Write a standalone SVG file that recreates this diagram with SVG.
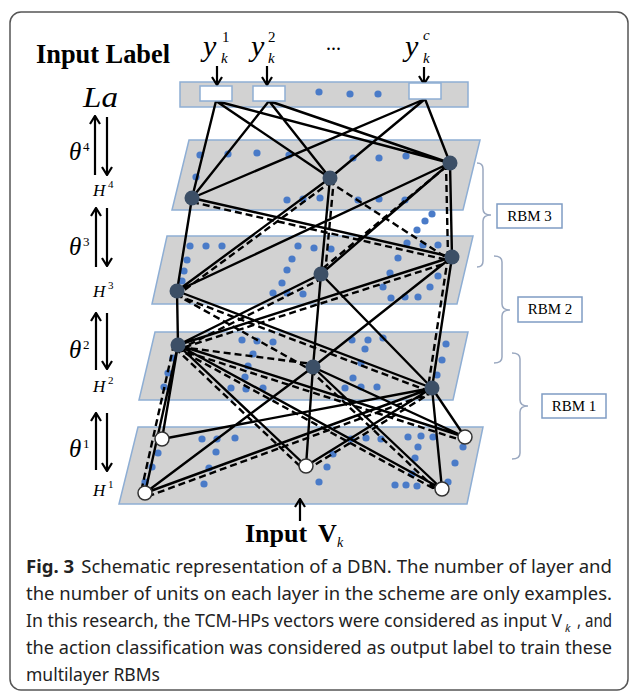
<svg xmlns="http://www.w3.org/2000/svg" width="630" height="695" viewBox="0 0 630 695">
<style>
.layer{fill:#d2d2d2;stroke:#8eaed4;stroke-width:1.5}
.dot{fill:#4a7bc8}
.hn{fill:#3c4f66}
.vn{fill:#fff;stroke:#333;stroke-width:1.5}
.lb{fill:#fff;stroke:#8eaed4;stroke-width:1.5}
.s{stroke:#000;stroke-width:2.4;fill:none}
.d{stroke:#000;stroke-width:2.4;fill:none;stroke-dasharray:7 4}
.ar{stroke:#000;stroke-width:2.2;fill:none}
.serif{font-family:"Liberation Serif","Times New Roman",serif;fill:#000}
.it{font-family:"Liberation Serif","Times New Roman",serif;font-style:italic;fill:#000}
.brace{fill:none;stroke:#9aa8c0;stroke-width:1.5}
.rbm{fill:#fff;stroke:#7f9cc4;stroke-width:1.5}
.cap{font-family:"Noto Sans","Open Sans","Liberation Sans",sans-serif;font-size:18.5px;fill:#222}
</style>
<defs>
<marker id="ah" viewBox="0 0 12 12" refX="11" refY="6" markerWidth="12" markerHeight="12" markerUnits="userSpaceOnUse" orient="auto">
<path d="M3,1 L11,6 L3,11" fill="none" stroke="#000" stroke-width="2.2"/>
</marker>
</defs>

<rect x="10" y="12" width="618" height="678" rx="11" fill="#fff" stroke="#555" stroke-width="1.5"/>

<!-- layers -->
<g id="label-layer">
<rect class="layer" x="180" y="82" width="288" height="25"/>
<circle class="dot" cx="319" cy="92" r="3.6"/><circle class="dot" cx="350" cy="94" r="3.6"/><circle class="dot" cx="378" cy="94" r="3.6"/>
</g>
<g id="layer-h4">
<polygon class="layer" points="189,140 480,140 463,210 172,210"/>
<g class="dot">
<circle cx="200" cy="155" r="3.6"/><circle cx="228" cy="154" r="3.6"/><circle cx="257" cy="153" r="3.6"/><circle cx="289" cy="155" r="3.6"/><circle cx="353" cy="158" r="3.6"/><circle cx="379" cy="158" r="3.6"/><circle cx="406" cy="156" r="3.6"/><circle cx="196" cy="177" r="3.6"/><circle cx="287" cy="200" r="3.6"/><circle cx="303" cy="199" r="3.6"/><circle cx="320" cy="198" r="3.6"/><circle cx="358" cy="200" r="3.6"/><circle cx="379" cy="199" r="3.6"/><circle cx="405" cy="200" r="3.6"/>
<circle cx="432" cy="214" r="3.6"/><circle cx="425" cy="221" r="3.6"/><circle cx="417" cy="230" r="3.6"/>
</g>
</g>
<g id="layer-h3">
<polygon class="layer" points="167,236 473,236 457,304 152,304"/>
<g class="dot">
<circle cx="190" cy="246" r="3.6"/><circle cx="206" cy="246" r="3.6"/><circle cx="222" cy="246" r="3.6"/><circle cx="187" cy="260" r="3.6"/><circle cx="184" cy="271" r="3.6"/><circle cx="182" cy="281" r="3.6"/>
<circle cx="298" cy="246" r="3.6"/><circle cx="314" cy="248" r="3.6"/><circle cx="331" cy="249" r="3.6"/><circle cx="292" cy="259" r="3.6"/><circle cx="287" cy="270" r="3.6"/><circle cx="282" cy="283" r="3.6"/><circle cx="273" cy="293" r="3.6"/><circle cx="287" cy="293" r="3.6"/><circle cx="303" cy="294" r="3.6"/>
<circle cx="398" cy="258" r="3.6"/><circle cx="390" cy="273" r="3.6"/><circle cx="383" cy="287" r="3.6"/><circle cx="391" cy="298" r="3.6"/><circle cx="405" cy="297" r="3.6"/><circle cx="418" cy="297" r="3.6"/><circle cx="407" cy="243" r="3.6"/><circle cx="423" cy="245" r="3.6"/><circle cx="438" cy="245" r="3.6"/><circle cx="438" cy="276" r="3.6"/><circle cx="430" cy="287" r="3.6"/>
</g>
</g>
<g id="layer-h2">
<polygon class="layer" points="155,332 468,332 453,400 139,400"/>
<g class="dot">
<circle cx="173" cy="358" r="3.6"/><circle cx="168" cy="373" r="3.6"/><circle cx="164" cy="387" r="3.6"/>
<circle cx="242" cy="340" r="3.6"/><circle cx="257" cy="341" r="3.6"/><circle cx="273" cy="342" r="3.6"/><circle cx="253" cy="354" r="3.6"/><circle cx="248" cy="366" r="3.6"/><circle cx="245" cy="377" r="3.6"/><circle cx="231" cy="388" r="3.6"/><circle cx="246" cy="389" r="3.6"/><circle cx="263" cy="388" r="3.6"/>
<circle cx="352" cy="340" r="3.6"/><circle cx="368" cy="340" r="3.6"/><circle cx="383" cy="338" r="3.6"/><circle cx="365" cy="349" r="3.6"/><circle cx="361" cy="363" r="3.6"/><circle cx="353" cy="378" r="3.6"/><circle cx="361" cy="387" r="3.6"/><circle cx="377" cy="387" r="3.6"/><circle cx="345" cy="388" r="3.6"/>
<circle cx="446" cy="344" r="3.6"/><circle cx="442" cy="360" r="3.6"/><circle cx="437" cy="375" r="3.6"/>
</g>
</g>
<g id="layer-h1">
<polygon class="layer" points="138,427 483,427 467,504 119,504"/>
<g class="dot">
<circle cx="158" cy="453" r="3.6"/><circle cx="152" cy="467" r="3.6"/><circle cx="145" cy="482" r="3.6"/>
<circle cx="202" cy="439" r="3.6"/><circle cx="217" cy="439" r="3.6"/><circle cx="235" cy="438" r="3.6"/><circle cx="216" cy="452" r="3.6"/><circle cx="209" cy="468" r="3.6"/><circle cx="204" cy="484" r="3.6"/>
<circle cx="333" cy="454" r="3.6"/><circle cx="327" cy="467" r="3.6"/><circle cx="319" cy="482" r="3.6"/>
<circle cx="351" cy="439" r="3.6"/><circle cx="366" cy="438" r="3.6"/><circle cx="381" cy="439" r="3.6"/><circle cx="408" cy="437" r="3.6"/><circle cx="421" cy="436" r="3.6"/><circle cx="433" cy="437" r="3.6"/><circle cx="418" cy="447" r="3.6"/><circle cx="415" cy="458" r="3.6"/><circle cx="412" cy="474" r="3.6"/><circle cx="395" cy="485" r="3.6"/><circle cx="406" cy="485" r="3.6"/><circle cx="417" cy="486" r="3.6"/>
<circle cx="463" cy="447" r="3.6"/><circle cx="455" cy="463" r="3.6"/><circle cx="448" cy="482" r="3.6"/>
</g>
</g>

<!-- connectors -->
<g id="connectors">
<path class="s" d="M216,101 L192,198 M216,101 L330,178 M216,101 L450,163 M269,101 L192,198 M269,101 L330,178 M269,101 L450,163 M425,99 L192,198 M425,99 L330,178 M425,99 L450,163"/>
<path class="s" d="M192,198 L177,291 M192,198 L452,257 M330,178 L177,291 M330,178 L321,274 M450,163 L177,291 M450,163 L321,274 M450,163 L452,257 M177,291 L450,163"/>
<path class="d" d="M192,202 L452,261 M334,178 L325,274 M328,181 L450,260 M446,163 L448,257 M332,181 L179,294 M447,166 L321,270"/>
<path class="s" d="M177,291 L178,345 M177,291 L432,388 M321,274 L178,345 M321,274 L313,367 M321,274 L432,388 M452,257 L178,345 M452,257 L313,367 M452,257 L432,388"/>
<path class="d" d="M176,295 L431,392 M175,294 L311,370 M323,278 L180,349 M453,261 L179,349 M448,257 L428,388"/>
<path class="s" d="M162,439 L178,345 M162,439 L432,388 M145,493 L178,345 M145,493 L313,367 M145,493 L432,388 M306,466 L178,345 M306,466 L313,367 M306,466 L432,388 M442,489 L178,345 M442,489 L313,367 M442,489 L432,388 M465,437 L313,367 M465,437 L432,388 M465,437 L178,345"/>
<path class="d" d="M174,344 L141,492 M175,348 L303,469 M176,348 L440,492 M177,349 L464,441 M310,370 L439,492 M433,392 L146,497 M434,391 L308,469 M180,347 L313,364"/>
<path class="ar" d="M217,66 L217,85" marker-end="url(#ah)"/>
<path class="ar" d="M267,66 L267,85" marker-end="url(#ah)"/>
<path class="ar" d="M424,67 L424,84" marker-end="url(#ah)"/>
<path class="ar" d="M300,521 L300,499" marker-end="url(#ah)"/>
</g>

<!-- label units -->
<g id="unit-y1"><rect class="lb" x="200" y="86" width="32" height="15"/></g>
<g id="unit-y2"><rect class="lb" x="253" y="86" width="32" height="15"/></g>
<g id="unit-yc"><rect class="lb" x="409" y="83" width="32" height="16"/></g>

<!-- hidden units -->
<g id="h4-1"><circle class="hn" cx="192" cy="198" r="7.5"/></g>
<g id="h4-2"><circle class="hn" cx="330" cy="178" r="7.5"/></g>
<g id="h4-3"><circle class="hn" cx="450" cy="163" r="7.5"/></g>
<g id="h3-1"><circle class="hn" cx="177" cy="291" r="7.5"/></g>
<g id="h3-2"><circle class="hn" cx="321" cy="274" r="7.5"/></g>
<g id="h3-3"><circle class="hn" cx="452" cy="257" r="7.5"/></g>
<g id="h2-1"><circle class="hn" cx="178" cy="345" r="7.5"/></g>
<g id="h2-2"><circle class="hn" cx="313" cy="367" r="7.5"/></g>
<g id="h2-3"><circle class="hn" cx="432" cy="388" r="7.5"/></g>
<!-- visible units -->
<g id="v-1"><circle class="vn" cx="162" cy="439" r="7"/></g>
<g id="v-2"><circle class="vn" cx="145" cy="493" r="7"/></g>
<g id="v-3"><circle class="vn" cx="306" cy="466" r="7"/></g>
<g id="v-4"><circle class="vn" cx="442" cy="489" r="7"/></g>
<g id="v-5"><circle class="vn" cx="465" cy="437" r="7"/></g>

<!-- top labels -->
<g id="title-input-label">
<text class="serif" x="36" y="63" font-size="28" font-weight="bold" textLength="134" lengthAdjust="spacingAndGlyphs">Input Label</text>
</g>
<g id="y-labels">
<text class="it" x="203" y="56" font-size="30">y</text><text class="serif" x="222" y="42" font-size="15">1</text><text class="it" x="221" y="63" font-size="15">k</text>
<text class="it" x="251" y="56" font-size="30">y</text><text class="serif" x="268" y="42" font-size="15">2</text><text class="it" x="268" y="63" font-size="15">k</text>
<text class="serif" x="326" y="50" font-size="20">...</text>
<text class="it" x="405" y="56" font-size="30">y</text><text class="it" x="423" y="40" font-size="15">c</text><text class="it" x="423" y="63" font-size="15">k</text>
</g>

<!-- left side labels -->
<g id="left-labels">
<text class="it" x="83" y="107" font-size="29" textLength="35" lengthAdjust="spacingAndGlyphs">La</text>
<path class="ar" d="M95,175 L95,116" marker-end="url(#ah)"/>
<path class="ar" d="M96,267 L96,208" marker-end="url(#ah)"/>
<path class="ar" d="M96,370 L96,313" marker-end="url(#ah)"/>
<path class="ar" d="M96,470 L96,413" marker-end="url(#ah)"/>
<path class="ar" d="M107,117 L107,175" marker-end="url(#ah)"/>
<path class="ar" d="M107,208 L107,266" marker-end="url(#ah)"/>
<path class="ar" d="M107,313 L107,369" marker-end="url(#ah)"/>
<path class="ar" d="M107,413 L107,471" marker-end="url(#ah)"/>
<text class="it" x="69" y="160" font-size="25">θ</text><text class="serif" x="83" y="151" font-size="13">4</text>
<text class="it" x="69" y="255" font-size="25">θ</text><text class="serif" x="83" y="246" font-size="13">3</text>
<text class="it" x="69" y="358" font-size="25">θ</text><text class="serif" x="83" y="349" font-size="13">2</text>
<text class="it" x="69" y="457" font-size="25">θ</text><text class="serif" x="83" y="448" font-size="13">1</text>
<text class="it" x="93" y="196" font-size="17">H</text><text class="serif" x="108" y="188" font-size="11">4</text>
<text class="it" x="93" y="297" font-size="17">H</text><text class="serif" x="108" y="289" font-size="11">3</text>
<text class="it" x="93" y="392" font-size="17">H</text><text class="serif" x="108" y="384" font-size="11">2</text>
<text class="it" x="93" y="496" font-size="17">H</text><text class="serif" x="108" y="488" font-size="11">1</text>
</g>

<!-- RBM braces -->
<g id="rbm3">
<path class="brace" d="M477,163 Q483,163 483,169 L483,209 Q483,215 491,215 Q483,215 483,221 L483,261 Q483,267 477,267"/>
<rect class="rbm" x="497" y="204" width="65" height="24"/>
<text class="serif" x="529.5" y="221" font-size="15" text-anchor="middle">RBM 3</text>
</g>
<g id="rbm2">
<path class="brace" d="M494,256 Q502,256 502,262 L502,304 Q502,310 510,310 Q502,310 502,316 L502,357 Q502,363 494,363"/>
<rect class="rbm" x="518" y="297" width="64" height="25"/>
<text class="serif" x="550" y="314" font-size="15" text-anchor="middle">RBM 2</text>
</g>
<g id="rbm1">
<path class="brace" d="M512,353 Q520,353 520,359 L520,400 Q520,406 528,406 Q520,406 520,412 L520,453 Q520,459 512,459"/>
<rect class="rbm" x="542" y="394" width="64" height="24"/>
<text class="serif" x="574" y="411" font-size="15" text-anchor="middle">RBM 1</text>
</g>

<!-- input label -->
<g id="input-vk">
<text class="serif" x="245" y="542" font-size="26" font-weight="bold">Input</text>
<text class="serif" x="318" y="542" font-size="26" font-weight="bold">V</text>
<text class="it" x="337" y="547" font-size="14">k</text>
</g>

<!-- caption -->
<g id="caption">
<text class="cap" x="26" y="573" textLength="586" lengthAdjust="spacingAndGlyphs"><tspan font-weight="bold">Fig. 3</tspan><tspan dx="7">Schematic representation of a DBN. The number of layer and</tspan></text>
<text class="cap" x="26" y="600" textLength="586" lengthAdjust="spacingAndGlyphs">the number of units on each layer in the scheme are only examples.</text>
<text class="cap" x="26" y="627" textLength="536" lengthAdjust="spacingAndGlyphs">In this research, the TCM-HPs vectors were considered as input V</text>
<text class="cap" x="565" y="632" style="font-size:11px;font-style:italic">k</text>
<text class="cap" x="577" y="627" textLength="35" lengthAdjust="spacingAndGlyphs">, and</text>
<text class="cap" x="26" y="654" textLength="586" lengthAdjust="spacingAndGlyphs">the action classification was considered as output label to train these</text>
<text class="cap" x="26" y="681" textLength="134" lengthAdjust="spacingAndGlyphs">multilayer RBMs</text>
</g>
</svg>
